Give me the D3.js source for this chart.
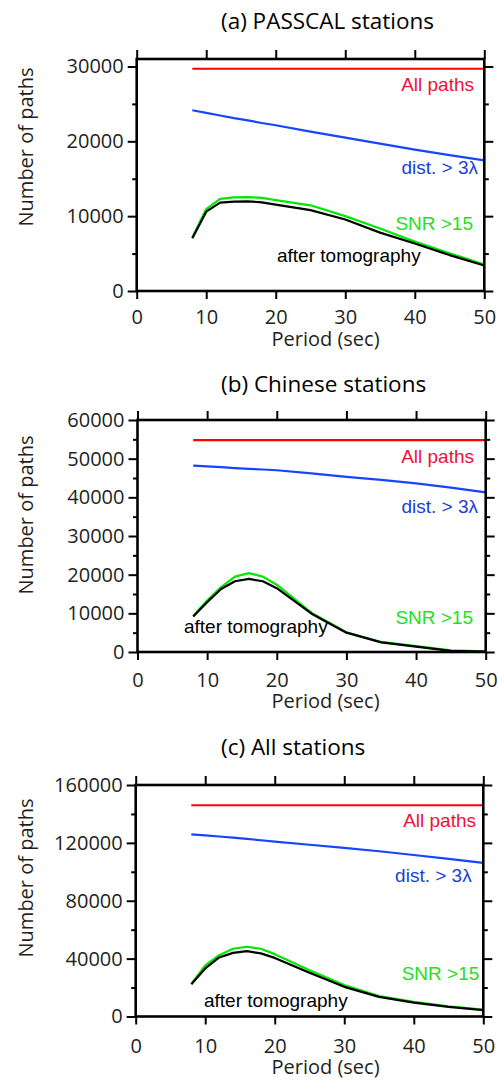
<!DOCTYPE html>
<html>
<head>
<meta charset="utf-8">
<script src="https://cdn.jsdelivr.net/npm/d3@7"></script>
<style>
  html, body { margin: 0; padding: 0; background: #fff; }
  svg { display: block; }
</style>
</head>
<body>
<svg id="chart" width="498" height="1080"></svg>
<script>
// ---- data ----
const periods = [8, 10, 12, 14, 16, 18, 20, 25, 30, 35, 40, 45, 50];

const titles = ["(a) PASSCAL stations", "(b) Chinese stations", "(c) All stations"];

const allPathsA = [29700, 29700, 29700, 29700, 29700, 29700, 29700, 29700, 29700, 29700, 29700, 29700, 29700];
const distA     = [24150, 23800, 23450, 23100, 22800, 22450, 22150, 21300, 20500, 19700, 18900, 18150, 17450];
const snrA      = [7150, 10950, 12300, 12500, 12550, 12450, 12150, 11450, 10000, 8350, 6600, 5050, 3550];
const tomoA     = [7050, 10600, 11800, 11950, 11980, 11850, 11550, 10800, 9550, 7800, 6350, 4800, 3400];

const allPathsB = [54800, 54800, 54800, 54800, 54800, 54800, 54800, 54800, 54800, 54800, 54800, 54800, 54800];
const distB     = [48200, 48000, 47800, 47550, 47350, 47200, 47000, 46200, 45300, 44500, 43600, 42500, 41300];
const snrB      = [9300, 13300, 16800, 19500, 20400, 19500, 17400, 10100, 5100, 2600, 1500, 400, 200];
const tomoB     = [9200, 12900, 16300, 18300, 18900, 18300, 16500, 9900, 5000, 2500, 1400, 300, 100];

const allPathsC = [146000, 146000, 146000, 146000, 146000, 146000, 146000, 146000, 146000, 146000, 146000, 146000, 146000];
const distC     = [125900, 125200, 124400, 123600, 122800, 121800, 120800, 118700, 116600, 114200, 111600, 109000, 106200];
const snrC      = [22500, 35300, 42400, 46800, 48200, 46800, 43100, 32000, 21700, 14100, 10100, 7100, 4800];
const tomoC     = [22300, 33200, 40800, 44000, 45200, 43600, 40500, 30200, 20500, 13600, 9600, 6700, 4400];

const xTicks = [0, 10, 20, 30, 40, 50];
const yTicksA = [0, 10000, 20000, 30000];
const yMinorA = [5000, 15000, 25000];
const yTicksB = [0, 10000, 20000, 30000, 40000, 50000, 60000];
const yMinorB = [5000, 15000, 25000, 35000, 45000, 55000];
const yTicksC = [0, 40000, 80000, 120000, 160000];
const yMinorC = [20000, 60000, 100000, 140000];

const seriesLabels = ["All paths", "dist. > 3\u03bb", "SNR >15", "after tomography"];
const xLabel = "Period (sec)";
const yLabel = "Number of paths";

// ---- layout (pixel boxes) ----
const panels = [
  { title: titles[0], all: allPathsA, dist: distA, snr: snrA, tomo: tomoA,
    yMax: 31000, yTicks: yTicksA, yMinor: yMinorA,
    box: { l: 136.7, r: 484.3, t: 59, b: 291 },
    titleY: 29, ylabY: 147, xPad: 11, xLabOff: 55,
    lab: { all: [474, 91], dist: [478, 174], snr: [473, 230], tomo: [277, 262] } },
  { title: titles[1], all: allPathsB, dist: distB, snr: snrB, tomo: tomoB,
    yMax: 60000, yTicks: yTicksB, yMinor: yMinorB,
    box: { l: 137.5, r: 485.7, t: 420, b: 652 },
    titleY: 392, ylabY: 515, xPad: 12.5, xLabOff: 56,
    lab: { all: [474, 462.5], dist: [478, 513], snr: [473, 624], tomo: [184, 633] } },
  { title: titles[2], all: allPathsC, dist: distC, snr: snrC, tomo: tomoC,
    yMax: 160000, yTicks: yTicksC, yMinor: yMinorC,
    box: { l: 135.7, r: 483.3, t: 785, b: 1016.5 },
    titleY: 755, ylabY: 878, xPad: 14, xLabOff: 57.5,
    lab: { all: [476, 826.5], dist: [471.7, 881.5], snr: [479.3, 980], tomo: [204, 1006.5] } }
];

const svg = d3.select("#chart");
const sansAxis = "'Open Sans', 'Noto Sans', sans-serif";
const sansLab = "'Liberation Sans', Arial, sans-serif";
const axisColor = "#231f20";

panels.forEach(p => {
  const B = p.box;
  const x = d3.scaleLinear().domain([0, 50]).range([B.l, B.r]);
  const y = d3.scaleLinear().domain([0, p.yMax]).range([B.b, B.t]);
  const g = svg.append("g");

  // title
  g.append("text").attr("x", 221).attr("y", p.titleY)
    .attr("font-family", sansAxis).attr("font-size", 22.5).attr("fill", "#000")
    .text(p.title);

  // axes with ticks (outward)
  const left = d3.axisLeft(y).tickValues(p.yTicks).tickSize(9).tickPadding(4).tickFormat(d3.format("d"));
  const leftMinor = d3.axisLeft(y).tickValues(p.yMinor).tickSize(4.5).tickFormat("");
  const right = d3.axisRight(y).tickValues(p.yTicks).tickSize(9).tickFormat("");
  const rightMinor = d3.axisRight(y).tickValues(p.yMinor).tickSize(4.5).tickFormat("");
  const bottom = d3.axisBottom(x).tickValues(xTicks).tickSize(8).tickPadding(p.xPad).tickFormat(d3.format("d"));
  const top = d3.axisTop(x).tickValues(xTicks).tickSize(9).tickFormat("");

  const axes = [
    [left, `translate(${B.l},0)`],
    [leftMinor, `translate(${B.l},0)`],
    [right, `translate(${B.r},0)`],
    [rightMinor, `translate(${B.r},0)`],
    [bottom, `translate(0,${B.b})`],
    [top, `translate(0,${B.t})`]
  ];
  axes.forEach(([ax, tr]) => {
    const a = g.append("g").attr("transform", tr).call(ax);
    a.select(".domain").remove();
    a.selectAll(".tick line").attr("stroke", "#000").attr("stroke-width", 2);
    a.selectAll(".tick text").attr("font-family", sansAxis).attr("font-size", 20).attr("fill", axisColor);
  });

  // data lines
  const line = vals => d3.line().x((d, i) => x(periods[i])).y(d => y(d))(vals);
  const series = [
    [p.all, "#ff0000"],
    [p.dist, "#1446ff"],
    [p.snr, "#00e800"],
    [p.tomo, "#000000"]
  ];
  series.forEach(([vals, col]) => {
    g.append("path").attr("d", line(vals)).attr("fill", "none")
      .attr("stroke", col).attr("stroke-width", 2.2).attr("stroke-linejoin", "round");
  });

  // frame
  g.append("rect").attr("x", B.l).attr("y", B.t).attr("width", B.r - B.l).attr("height", B.b - B.t)
    .attr("fill", "none").attr("stroke", "#000").attr("stroke-width", 2.6);

  // series labels
  const labs = [
    [seriesLabels[0], p.lab.all, "#f0103c", "end"],
    [seriesLabels[1], p.lab.dist, "#1a3fd6", "end"],
    [seriesLabels[2], p.lab.snr, "#22e022", "end"],
    [seriesLabels[3], p.lab.tomo, "#000000", "start"]
  ];
  labs.forEach(([t, pos, col, anchor]) => {
    g.append("text").attr("x", pos[0]).attr("y", pos[1])
      .attr("text-anchor", anchor).attr("font-family", sansLab).attr("font-size", 19)
      .attr("fill", col).text(t);
  });

  // axis labels
  g.append("text").attr("x", 325.5).attr("y", B.b + p.xLabOff).attr("text-anchor", "middle")
    .attr("font-family", sansAxis).attr("font-size", 20).attr("fill", axisColor).text(xLabel);
  g.append("text").attr("transform", `translate(33,${p.ylabY}) rotate(-90)`).attr("text-anchor", "middle")
    .attr("font-family", sansAxis).attr("font-size", 20).attr("fill", axisColor).text(yLabel);
});
</script>
</body>
</html>
